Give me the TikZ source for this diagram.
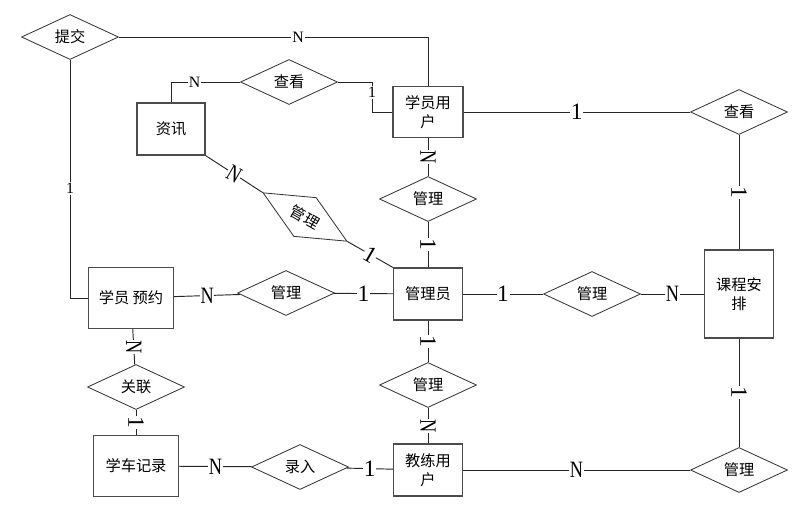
\documentclass[tikz,border=0pt]{standalone}
\usepackage{fontspec}
\newfontfamily\cjk{Noto Sans CJK SC}
\newfontfamily\lbl{Liberation Serif}
\usetikzlibrary{shapes.geometric}
\newcommand{\squeeze}[1]{\scalebox{0.78}[1]{#1}}

\begin{document}
\begin{tikzpicture}[x=0.03cm, y=-0.03cm,
    ent/.style={draw=black!70, line width=0.9pt, align=center, inner sep=1pt,
        font=\cjk\fontsize{13}{16}\selectfont},
    rel/.style={diamond, draw=black!80, line width=0.7pt, inner sep=0pt, aspect=2.15,
        minimum width=2.91cm, minimum height=1.35cm, font=\cjk\fontsize{13}{16}\selectfont},
    conn/.style={draw=black!85, line width=0.8pt},
    slab/.style={fill=white, inner sep=1pt, font=\lbl\fontsize{13.5}{13.5}\selectfont},
    blab/.style={fill=white, inner sep=0.5pt, font=\lbl\fontsize{20}{20}\selectfont}]

    \useasboundingbox (0,0) rectangle (803,518);

    % entities
    \node[ent, minimum width=2.1cm, minimum height=1.53cm] (xyuser) at (428,112) {学员用\\户};
    \node[ent, minimum width=2.04cm, minimum height=1.56cm] (zixun) at (171,129) {资讯};
    \node[ent, minimum width=2.07cm, minimum height=1.56cm] (admin) at (428,294) {管理员};
    \node[ent, minimum width=2.55cm, minimum height=1.83cm] (yuyue) at (131,298) {学员 预约};
    \node[ent, minimum width=2.55cm, minimum height=1.83cm] (xueche) at (136,466) {学车记录};
    \node[ent, minimum width=2.07cm, minimum height=1.56cm] (coach) at (428,470) {教练用\\户};
    \node[ent, minimum width=2.07cm, minimum height=2.64cm] (kecheng) at (739,294) {课程安\\排};

    % relations
    \node[rel] (tijiao) at (70,37) {提交};
    \node[rel] (chakanA) at (289,82) {查看};
    \node[rel] (chakanB) at (739,112) {查看};
    \node[rel] (guanliA) at (428,199) {管理};
    \node[rel, rotate=-30] (guanliB) at (305,217) {管理};
    \node[rel] (guanliC) at (286,293) {管理};
    \node[rel] (guanliD) at (592,294) {管理};
    \node[rel] (guanliE) at (428,385) {管理};
    \node[rel] (guanliF) at (739,470) {管理};
    \node[rel] (guanlian) at (136,387) {关联};
    \node[rel] (luru) at (300,467) {录入};

    % connectors
    \coordinate (bend) at (372,112);
    \draw[conn] (tijiao.east) -| node[slab, pos=0.29] {N} (xyuser.north);
    \draw[conn] (tijiao.south) |- node[slab, pos=0.27] {1} (yuyue.west);
    \draw[conn] (chakanA.west) -| node[slab, pos=0.33] {N} (zixun.north);
    \draw[conn] (chakanA.east) -| node[slab, pos=0.67] {1} (bend) -- (xyuser.west);
    \draw[conn] (xyuser) -- node[blab] {1} (chakanB);
    \draw[conn] (chakanB) -- node[blab, rotate=-90] {1} (kecheng);
    \draw[conn] (xyuser) -- node[blab, rotate=-90] {\squeeze{N}} (guanliA);
    \draw[conn] (guanliA) -- node[blab, rotate=-90] {1} (admin);
    \draw[conn] (zixun.south east) -- node[blab, rotate=-30] {\squeeze{N}} (guanliB.west);
    \draw[conn] (guanliB.east) -- node[blab, rotate=-30] {1} (admin.north west);
    \draw[conn] (yuyue) -- node[blab] {\squeeze{N}} (guanliC);
    \draw[conn] (guanliC) -- node[blab] {1} (admin);
    \draw[conn] (admin) -- node[blab] {1} (guanliD);
    \draw[conn] (guanliD) -- node[blab] {\squeeze{N}} (kecheng);
    \draw[conn] (admin) -- node[blab, rotate=-90] {1} (guanliE);
    \draw[conn] (guanliE) -- node[blab, rotate=-90] {\squeeze{N}} (coach);
    \draw[conn] (yuyue) -- node[blab, rotate=-90] {\squeeze{N}} (guanlian);
    \draw[conn] (guanlian) -- node[blab, rotate=-90] {1} (xueche);
    \draw[conn] (xueche) -- node[blab] {\squeeze{N}} (luru);
    \draw[conn] (luru) -- node[blab] {1} (coach);
    \draw[conn] (coach) -- node[blab] {\squeeze{N}} (guanliF);
    \draw[conn] (guanliF) -- node[blab, rotate=-90] {1} (kecheng);

\end{tikzpicture}
\end{document}
